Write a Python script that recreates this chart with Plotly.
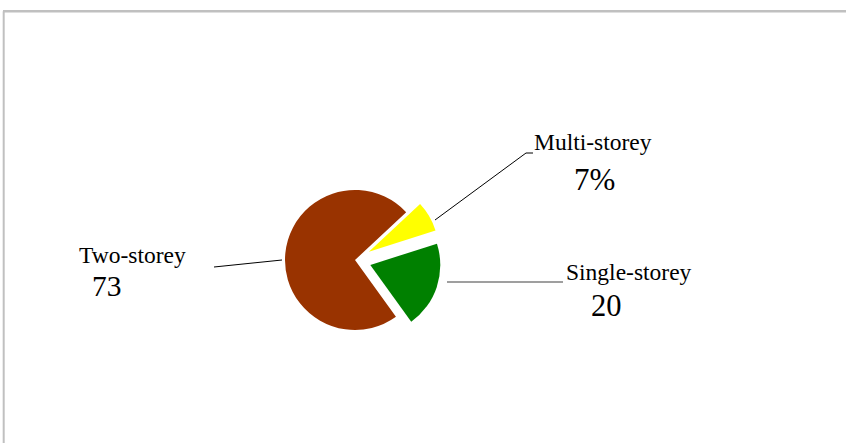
import plotly.graph_objects as go

W, H = 846, 443

# ---- data ----
labels = ["Multi-storey", "Single-storey", "Two-storey"]
values = [7, 20, 73]
value_texts = ["7%", "20", "73"]
colors = ["#FFFF00", "#008000", "#993300"]
pulls = [0.23, 0.23, 0.0]

def px(x):
    return x / W

def py(y):
    return 1 - y / H

# pie geometry (pixels)
cx, cy, r = 355, 260, 70
half = r * (1 + max(pulls))

fig = go.Figure()
fig.add_trace(go.Pie(
    labels=labels, values=values, sort=False,
    direction="clockwise", rotation=47,
    pull=pulls,
    marker=dict(colors=colors, line=dict(width=0)),
    textinfo="none", hoverinfo="label+value",
    showlegend=False,
    domain=dict(x=[px(cx - half), px(cx + half)],
                y=[py(cy + half), py(cy - half)]),
))

FONT = "Liberation Serif"
annots = [
    # (text, x_left, y_mid, size)
    ("Two-storey", 77, 255, 23.5),
    (value_texts[2], 90, 286, 29.5),
    ("Multi-storey", 532, 142, 23.5),
    (value_texts[0], 572, 180, 31),
    ("Single-storey", 564, 272, 23.5),
    (value_texts[1], 589, 306, 30.5),
]
for t, x, y, s in annots:
    fig.add_annotation(text=t, x=px(x), y=py(y), xref="paper", yref="paper",
                       xanchor="left", yanchor="middle", showarrow=False,
                       font=dict(family=FONT, size=s, color="black"))

# leader lines
lines = [
    ([(214, 267), (282, 260)], "black", 1),
    ([(435, 220), (526, 153), (533, 153)], "black", 1),
    ([(447, 282), (563, 282)], "#7f7f7f", 1.5),
]
for pts, col, w in lines:
    for (x0, y0), (x1, y1) in zip(pts[:-1], pts[1:]):
        fig.add_shape(type="line", xref="paper", yref="paper",
                      x0=px(x0), y0=py(y0), x1=px(x1), y1=py(y1),
                      line=dict(color=col, width=w))

# chart border (top and left visible)
fig.add_shape(type="line", xref="paper", yref="paper",
              x0=px(3), y0=py(11.3), x1=px(846), y1=py(11.3),
              line=dict(color="#c0c0c0", width=2.5))
fig.add_shape(type="line", xref="paper", yref="paper",
              x0=px(3.7), y0=py(11.3), x1=px(3.7), y1=py(443),
              line=dict(color="#c0c0c0", width=2))

fig.update_layout(width=W, height=H, margin=dict(l=0, r=0, t=0, b=0),
                  paper_bgcolor="white", plot_bgcolor="white")

fig.write_html("out.html")
